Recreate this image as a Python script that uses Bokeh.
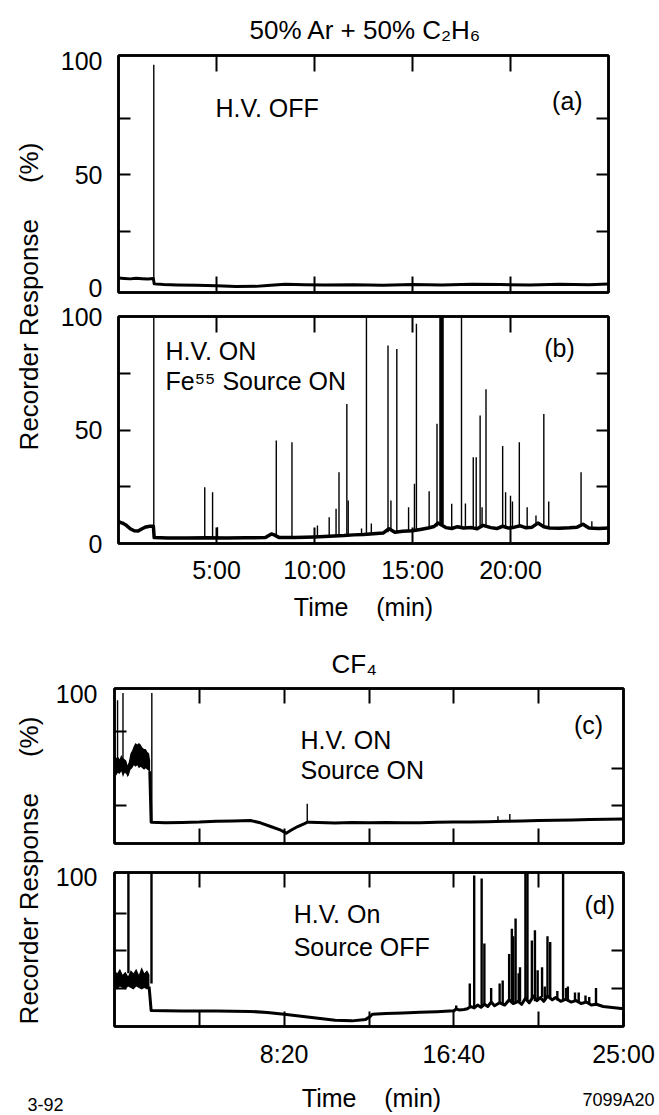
import math
from bokeh.plotting import figure
from bokeh.layouts import row, column
from bokeh.models import LinearAxis, FixedTicker, Label, Range1d, Title
from bokeh.embed import file_html
from bokeh.resources import INLINE

FONT = "Liberation Sans"
FS = "25px"

# ---------------- (a) 50% Ar + 50% C2H6, H.V. OFF (minutes, %) ----------------
a_time = [0.0, 0.3, 0.6, 0.9, 1.2, 1.5, 1.78, 1.82, 2.3, 3.0, 4.0, 5.0, 6.0, 7.0, 7.6, 8.5,
          9.5, 10.5, 12.0, 13.5, 15.0, 16.5, 18.0, 19.5, 21.0, 22.5, 24.0, 25.0]
a_resp = [4.6, 4.4, 4.2, 4.5, 4.3, 4.1, 4.4, 2.0, 1.7, 1.5, 1.4, 1.2, 0.8, 0.9, 1.3, 1.8,
          1.6, 1.5, 1.6, 1.4, 1.7, 1.5, 1.8, 1.7, 1.5, 1.8, 1.6, 1.9]
a_spike_time = [1.80]
a_spike_top = [98.5]
a_spike_foot = [2.0]

# ---------------- (b) H.V. ON, Fe55 source ON ----------------
b_base_time = [0.0, 0.2, 0.4, 0.6, 0.8, 1.0, 1.2, 1.4, 1.6, 1.78, 1.82, 2.5, 3.5, 4.5, 5.5, 6.5,
               7.5, 7.8, 7.95, 8.2, 9.0, 10.0, 10.5, 11.0, 11.5, 12.0, 12.5, 13.0, 13.5, 13.8,
               14.1, 14.5, 15.0, 15.4, 15.8, 16.1, 16.3, 16.7, 17.0, 17.3, 17.6, 18.0, 18.3,
               18.6, 19.0, 19.3, 19.6, 19.9, 20.2, 20.5, 20.8, 21.1, 21.4, 21.7, 22.0, 22.5,
               23.0, 23.4, 23.7, 24.0, 24.5, 25.0]
b_base_resp = [9.6, 9.0, 8.0, 6.5, 5.6, 5.5, 6.5, 7.3, 7.6, 7.6, 2.6, 2.4, 2.4, 2.5, 2.4, 2.5,
               2.6, 4.2, 3.8, 2.6, 2.6, 2.9, 3.1, 3.3, 3.5, 3.8, 4.0, 4.3, 4.6, 6.5,
               5.0, 5.4, 5.6, 6.2, 6.8, 7.5, 9.0, 7.0, 6.6, 7.4, 6.8, 7.0, 6.5,
               8.0, 7.0, 6.6, 7.6, 6.8, 7.2, 7.8, 6.9, 7.2, 9.0, 7.4, 6.8, 6.7,
               6.9, 7.2, 8.5, 6.8, 6.6, 6.8]
b_spike_time = [1.80, 4.40, 4.80, 5.05, 8.05, 8.85, 10.15, 10.75, 11.10, 11.25, 11.65, 11.72,
                12.40, 12.65, 12.90, 13.75, 13.90, 14.20, 14.80, 15.10, 15.20, 15.85, 16.25,
                16.40, 16.44, 16.48, 16.52, 16.56, 17.00, 17.50, 17.70, 18.10, 18.25, 18.45,
                18.55, 18.75, 19.60, 19.75, 20.00, 20.10, 20.45, 20.85, 21.30, 21.70, 21.95,
                23.60, 24.15]
b_spike_top = [100, 24.8, 22.6, 7.2, 45.4, 44.6, 7.9, 11.6, 15.3, 31.4, 61.5, 18.9,
               6.6, 100, 8.8, 87.2, 18.9, 85.7, 16.0, 26.3, 96.8, 23.0, 52.7,
               100, 100, 100, 100, 100, 17.5, 100, 17.6, 38.0, 38.0, 56.4,
               16.0, 68.0, 43.0, 22.6, 21.0, 18.5, 44.6, 16.0, 12.3, 57.0, 18.5,
               31.4, 9.8]
b_spike_foot = [2.6, 2.5, 2.5, 2.5, 2.7, 2.6, 2.9, 3.1, 3.3, 3.4, 3.5, 3.5,
                3.9, 4.0, 4.2, 5.0, 6.0, 5.0, 5.6, 5.8, 5.8, 6.8, 7.5,
                8.5, 8.5, 8.5, 8.5, 8.5, 6.6, 6.8, 6.8, 6.9, 7.0, 6.6,
                7.0, 7.5, 7.6, 7.0, 7.0, 7.2, 7.6, 6.9, 8.0, 7.4, 6.9,
                8.0, 6.8]

# ---------------- (c) CF4, H.V. ON, Source ON (seconds, %) ----------------
c_noise_time = [0, 5, 10, 15, 20, 25, 30, 35, 38, 42, 47, 52, 57, 62, 67, 72, 77, 82, 87,
                92, 97, 102, 105]
c_noise_high = [60, 57, 58, 56, 59, 57, 56, 55, 52, 54, 60, 62, 65, 67, 66, 67, 66, 64, 63,
                63, 61, 60, 55]
c_noise_low = [48, 45, 47, 46, 48, 44, 47, 46, 44, 45, 49, 50, 52, 51, 52, 50, 51, 50, 49,
               50, 49, 48, 45]
c_base_time = [104, 108, 150, 200, 250, 300, 350, 400, 430, 460, 490, 506, 520, 540, 560,
               568, 575, 600, 650, 700, 750, 800, 850, 900, 950, 1000, 1050, 1100, 1150,
               1200, 1250, 1300, 1350, 1400, 1450, 1500]
c_base_resp = [48, 13.4, 13.0, 13.3, 13.5, 14.0, 14.3, 14.6, 13.0, 10.5, 8.0, 6.0, 8.0, 10.5,
               12.5, 13.4, 13.4, 13.2, 12.9, 13.2, 13.0, 13.3, 13.1, 13.0, 13.4, 13.5, 13.6,
               13.8, 14.0, 14.3, 14.6, 14.8, 15.0, 15.2, 15.4, 15.6]
c_spike_time = [9, 25, 110, 568, 1130, 1165]
c_spike_top = [96, 101, 101, 25.9, 17.5, 19.0]
c_spike_foot = [55, 55, 13.4, 13.4, 14.2, 14.4]

# ---------------- (d) CF4, H.V. On, Source OFF ----------------
d_noise_time = [0, 8, 16, 24, 32, 40, 48, 56, 64, 72, 80, 88, 96, 103]
d_noise_high = [37, 35, 38, 34, 36, 33, 37, 35, 38, 34, 39, 35, 37, 34]
d_noise_low = [25, 24, 26, 25, 24, 26, 25, 24, 26, 25, 24, 25, 24, 25]
d_base_time = [102, 108, 150, 200, 300, 400, 450, 500, 550, 600, 650, 700, 740, 752, 760,
               800, 850, 900, 950, 1000, 1007, 1015, 1030, 1040, 1050, 1060, 1070, 1080,
               1090, 1100, 1110, 1120, 1135, 1150, 1163, 1175, 1190, 1200, 1211, 1222, 1235,
               1245, 1255, 1265, 1276, 1290, 1300, 1315, 1330, 1345, 1360, 1375, 1390, 1405,
               1420, 1440, 1460, 1480, 1500]
d_base_resp = [26, 9.8, 9.6, 9.5, 9.4, 9.2, 8.5, 7.3, 6.0, 4.6, 3.2, 2.8, 3.8, 5.5, 7.3,
               7.8, 8.2, 8.6, 9.0, 9.6, 10.8, 10.2, 10.5, 11.0, 12.5, 11.5, 13.5, 12.0,
               14.0, 12.5, 15.5, 13.0, 15.0, 13.5, 17.0, 14.5, 16.0, 14.0, 18.0, 15.0, 19.5,
               16.5, 18.5, 16.0, 19.5, 17.0, 18.5, 16.0, 17.5, 15.5, 16.5, 14.5, 15.5, 13.5,
               14.0, 12.5, 12.0, 11.5, 11.0]
d_spike_time = [41, 109, 1007, 1047, 1060, 1082, 1090, 1110, 1135, 1144, 1163, 1171, 1175,
                1182, 1191, 1195, 1211, 1217, 1230, 1239, 1247, 1260, 1268, 1276, 1284, 1305,
                1322, 1331, 1336, 1357, 1368, 1388, 1399, 1419]
d_spike_top = [103, 103, 13.2, 28, 101, 99, 55, 25, 28, 30, 48, 65, 60, 72, 35, 39, 103,
               103, 57, 64, 37, 39, 26, 60, 56, 23, 102, 25, 26, 22, 22, 20, 19, 25]
d_spike_foot = [35, 28, 10.8, 12.5, 11.5, 12.0, 14.0, 15.0, 15.0, 14.0, 17.0, 16.0, 15.0,
                15.0, 16.0, 16.0, 18.0, 17.0, 18.0, 16.0, 17.0, 19.0, 17.0, 19.5, 18.0,
                16.5, 17.0, 17.0, 16.5, 16.5, 15.5, 15.0, 14.5, 13.8]

# tick values / labels
ab_xticks = [5, 10, 15, 20]
ab_xlabels = {5: "5:00", 10: "10:00", 15: "15:00", 20: "20:00"}
cd_xticks = [500, 1000, 1500]
cd_xall = [250, 500, 750, 1000, 1250]
cd_xminor = [250, 750, 1250]
cd_xlabels = {500: "8:20", 1000: "16:40", 1500: "25:00"}
y_major = [0, 50, 100]
ab_yminor = [25, 50, 75]
cd_yminor_left = [25, 50, 75]
cd_yminor_right = [25, 50]


def make_panel(w, h, xr, yr, bl, br, bt, bb):
    p = figure(width=w, height=h, x_range=Range1d(*xr), y_range=Range1d(*yr),
               x_axis_type=None, y_axis_type=None, toolbar_location=None,
               output_backend="svg", title=None,
               min_border_left=bl, min_border_right=br, min_border_top=bt, min_border_bottom=bb)
    p.outline_line_color = "black"
    p.outline_line_width = 2.5
    p.background_fill_color = "white"
    p.border_fill_color = "white"
    return p


def style_ticks(ax, major_in, minor_in):
    ax.axis_line_color = "black"
    ax.axis_line_width = 2.5
    ax.major_tick_in = major_in
    ax.major_tick_out = 0
    ax.minor_tick_in = minor_in
    ax.minor_tick_out = 0
    ax.major_tick_line_width = 2
    ax.minor_tick_line_width = 2
    ax.major_tick_line_color = "black"
    ax.minor_tick_line_color = "black"


def label_axis(p, side, major, minor, overrides=None, major_in=0, minor_in=12, standoff=16):
    ax = LinearAxis(ticker=FixedTicker(ticks=major, minor_ticks=minor))
    style_ticks(ax, major_in, minor_in)
    if overrides:
        ax.major_label_overrides = overrides
    ax.major_label_text_font = FONT
    ax.major_label_text_font_size = FS
    ax.major_label_text_color = "black"
    ax.major_label_standoff = standoff
    p.add_layout(ax, side)
    return ax


def tick_axis(p, side, ticks, tick_in):
    # axis carrying only (unlabelled) tick marks
    ax = LinearAxis(ticker=FixedTicker(ticks=[], minor_ticks=ticks))
    style_ticks(ax, 0, tick_in)
    ax.major_label_standoff = 0
    p.add_layout(ax, side)
    return ax


def text(p, x, y, s, align="left"):
    p.add_layout(Label(x=x, y=y, text=s, text_font=FONT, text_font_size=FS,
                       text_color="black", text_align=align, text_baseline="middle"))


def trace(p, t, r, st, stop, sfoot, base_w=3, spike_w=1.4):
    p.line(t, r, line_color="black", line_width=base_w, line_join="round")
    p.segment(x0=st, y0=sfoot, x1=st, y1=stop, line_color="black", line_width=spike_w)


# ---- panel (a)
pa = make_panel(611, 304, (0, 25), (-1.8, 102.6), 70, 51, 55, 12)
pa.title = Title(text="50% Ar + 50% C\u2082H\u2086", align="left", offset=131,
                 text_font=FONT, text_font_size="26px", text_font_style="normal",
                 text_color="black", standoff=22)
label_axis(pa, "left", y_major, ab_yminor, standoff=16)
tick_axis(pa, "right", ab_yminor, 12)
tick_axis(pa, "below", ab_xticks, 16)
tick_axis(pa, "above", ab_xticks, 16)
trace(pa, a_time, a_resp, a_spike_time, a_spike_top, a_spike_foot)
text(pa, 4.95, 79.3, "H.V. OFF")
text(pa, 22.9, 82.4, "(a)", align="center")

# ---- panel (b)
pb = make_panel(611, 326, (0, 25), (0, 100), 70, 51, 12, 87)
label_axis(pb, "left", y_major, ab_yminor, standoff=16)
tick_axis(pb, "right", ab_yminor, 12)
xb = label_axis(pb, "below", ab_xticks, [], overrides=ab_xlabels, major_in=16, standoff=12)
xb.axis_label = "Time\u00a0\u00a0\u00a0\u00a0(min)"
xb.axis_label_text_font = FONT
xb.axis_label_text_font_size = FS
xb.axis_label_text_font_style = "normal"
xb.axis_label_text_color = "black"
xb.axis_label_standoff = 6
tick_axis(pb, "above", ab_xticks, 16)
trace(pb, b_base_time, b_base_resp, b_spike_time, b_spike_top, b_spike_foot, base_w=3.5)
text(pb, 2.4, 85, "H.V. ON")
text(pb, 2.4, 71.8, "Fe\u2075\u2075 Source ON")
text(pb, 22.5, 86.3, "(b)", align="center")

# ---- panel (c)
pc = make_panel(611, 227, (0, 1500), (-1, 104), 66, 36, 58, 14)
pc.title = Title(text="CF\u2084", align="left", offset=217, text_font=FONT,
                 text_font_size="26px", text_font_style="normal", text_color="black",
                 standoff=20)
label_axis(pc, "left", [100], cd_yminor_left, standoff=17)
tick_axis(pc, "right", cd_yminor_right, 12)
tick_axis(pc, "below", cd_xall, 15)
tick_axis(pc, "above", cd_xall, 15)
pc.varea(x=c_noise_time, y1=c_noise_low, y2=c_noise_high, fill_color="black")
trace(pc, c_base_time, c_base_resp, c_spike_time, c_spike_top, c_spike_foot)
text(pc, 548, 68.8, "H.V. ON")
text(pc, 548, 48.5, "Source ON")
text(pc, 1397, 79, "(c)", align="center")

# ---- panel (d)
pd_ = make_panel(611, 218, (0, 1500), (-1, 103), 66, 36, 15, 49)
label_axis(pd_, "left", [100], cd_yminor_left, standoff=17)
tick_axis(pd_, "right", cd_yminor_right, 12)
label_axis(pd_, "below", cd_xticks, cd_xminor, overrides=cd_xlabels, major_in=15,
           minor_in=15, standoff=13)
tick_axis(pd_, "above", cd_xall, 15)
pd_.varea(x=d_noise_time, y1=d_noise_low, y2=d_noise_high, fill_color="black")
trace(pd_, d_base_time, d_base_resp, d_spike_time, d_spike_top, d_spike_foot, spike_w=2.4)
text(pd_, 528, 74.7, "H.V. On")
text(pd_, 528, 53, "Source OFF")
text(pd_, 1430, 80.8, "(d)", align="center")


def blank(w, h):
    f = figure(width=w, height=h, x_axis_type=None, y_axis_type=None, toolbar_location=None,
               output_backend="svg", title=None, min_border=0)
    f.outline_line_color = None
    f.background_fill_color = "white"
    f.border_fill_color = "white"
    return f


ylab = "Recorder Response\u00a0\u00a0\u00a0\u00a0\u00a0(%)"
s1 = blank(48, 630)
s1.add_layout(Label(x=28, y=630 - 296, x_units="screen", y_units="screen", text=ylab,
                    angle=math.pi / 2, text_align="center", text_baseline="middle",
                    text_font=FONT, text_font_size="26px", text_color="black"))
s2 = blank(48, 445)
s2.add_layout(Label(x=28, y=445 - 240, x_units="screen", y_units="screen", text=ylab,
                    angle=math.pi / 2, text_align="center", text_baseline="middle",
                    text_font=FONT, text_font_size="26px", text_color="black"))
foot = blank(659, 40)
foot.add_layout(Label(x=371, y=18, x_units="screen", y_units="screen",
                      text="Time\u00a0\u00a0\u00a0\u00a0(min)", text_align="center",
                      text_baseline="middle", text_font=FONT, text_font_size=FS,
                      text_color="black"))
foot.add_layout(Label(x=27, y=11, x_units="screen", y_units="screen", text="3-92",
                      text_align="left", text_baseline="middle", text_font=FONT,
                      text_font_size="18px", text_color="black"))
foot.add_layout(Label(x=582, y=16, x_units="screen", y_units="screen", text="7099A20",
                      text_align="left", text_baseline="middle", text_font=FONT,
                      text_font_size="18px", text_color="black"))

layout = column(row(s1, column(pa, pb)), row(s2, column(pc, pd_)), foot)

open("out.html", "w").write(file_html(layout, INLINE))
